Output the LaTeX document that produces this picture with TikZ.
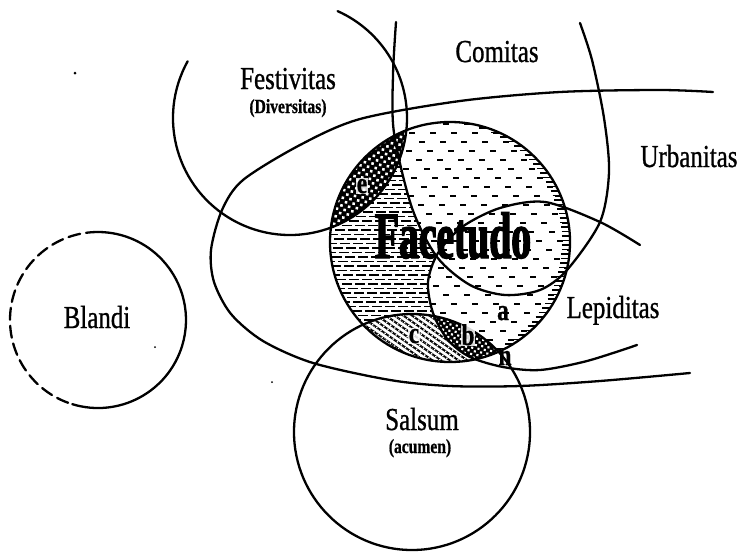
\documentclass[tikz,border=0pt]{standalone}
\usepackage{fontspec}
\setmainfont{Liberation Serif}
\newfontfamily\namefont[FakeStretch=0.78, FakeBold=0.8]{Liberation Serif}
\newfontfamily\bigfont[FakeStretch=0.6, FakeBold=2]{Liberation Serif}
\usetikzlibrary{patterns,patterns.meta}

\newcommand{\comitasline}{plot[smooth] coordinates {(396,22) (393,75) (394,133) (412,208) (437,257) (470,285) (505,295) (540,290) (567,270) (600,222) (609,172) (604,118) (592,60) (580,23)}}
\newcommand{\lepiditasline}{plot[smooth] coordinates {(640,245) (600,222) (545,202) (500,208) (462,227) (438,253) (428,282) (433,313) (448,340) (470,357) (503,367) (540,370) (587,361) (637,345)}}
\newcommand{\urbanitasline}{plot[smooth] coordinates {(713,92) (660,90) (560,92) (460,101) (360,119) (300,145) (243,180) (222,210) (211,250) (214,282) (231,314) (263,341) (313,363) (390,380) (450,386) (520,386) (600,381) (690,373)}}
\newcommand{\sparsehatch}{%
  \fill[white] (320,110) rectangle (580,380);
  \foreach \y [count=\i] in {124,133,...,360} {
    \pgfmathsetmacro{\ph}{mod(11*\i,19)}
    \draw[line width=1.5pt, dash pattern=on 6pt off 15pt, dash phase=\ph pt] (328,\y) -- (572,\y);
  }
  \foreach \y in {128,132.5,...,358} {
    \pgfmathsetmacro{\xe}{450+sqrt(max(0,14400-(\y-242)*(\y-242)))}
    \draw[line width=1.5pt] (\xe-8,\y) -- (\xe+2,\y);
  }
}

\begin{document}
\begin{tikzpicture}[
        x = 1pt,
        y = -1pt,
        outline/.style = {line width=2.3pt, line cap=round},
        namelabel/.style = {font=\namefont\fontsize{32}{32}\selectfont, inner sep=0pt, anchor=base},
        sublabel/.style = {font=\namefont\bfseries\fontsize{20}{20}\selectfont, inner sep=0pt, anchor=base},
        regionlabel/.style = {font=\namefont\bfseries\fontsize{30}{30}\selectfont, inner sep=0pt, anchor=base},
        darklabel/.style = {regionlabel, fill=white, fill opacity=0.85, text opacity=1, inner sep=0.6pt}
        ]
    \useasboundingbox (0,0) rectangle (738,552);

    % Facetudo, dense hatching
    \begin{scope}
        \clip (450,242) circle (120);
        \foreach \y [count=\i] in {122,126.5,...,362} {
            \pgfmathsetmacro{\ph}{mod(7*\i,13)}
            \draw[line width=1.8pt, dash pattern=on 10pt off 3pt, dash phase=\ph pt] (328,\y) -- (572,\y);
        }
    \end{scope}
    % sparse hatching inside Comitas and Lepiditas
    \begin{scope}
        \clip (450,242) circle (120);
        \clip \comitasline -- cycle;
        \sparsehatch
    \end{scope}
    \begin{scope}
        \clip (450,242) circle (120);
        \clip \lepiditasline -- cycle;
        \sparsehatch
    \end{scope}

    % region e
    \begin{scope}
        \clip (450,242) circle (120);
        \clip (290,118) circle (117);
        \fill[black] (320,110) rectangle (420,240);
        \fill[pattern={Dots[radius=1.8pt, distance=5.5pt, angle=35]}, pattern color=white] (320,110) rectangle (420,240);
    \end{scope}

    % regions c and b
    \begin{scope}
        \clip (450,242) circle (120);
        \clip (412,432) circle (118);
        \fill[white] (350,300) rectangle (520,370);
        \fill[pattern={Lines[angle=-35, distance=5pt, line width=2pt]}] (350,300) rectangle (520,370);
        \fill[pattern={Dots[radius=1pt, distance=5pt, angle=55]}, pattern color=white] (350,300) rectangle (520,370);
        \clip \lepiditasline -- cycle;
        \fill[black] (350,300) rectangle (520,370);
        \fill[pattern={Dots[radius=1.5pt, distance=4.5pt, angle=35]}, pattern color=white] (350,300) rectangle (520,370);
    \end{scope}

    % outlines
    \draw[outline] (450,242) circle (120);
    \draw[outline] (290,118) ++(209:117) arc[start angle=209, end angle=-66, radius=117];
    \draw[outline] \comitasline;
    \draw[outline] \lepiditasline;
    \draw[outline] \urbanitasline;
    \draw[outline] (412,432) circle (118);
    \draw[outline, dash pattern=on 12pt off 6pt] (98,320) ++(270:88) arc[start angle=270, end angle=107, radius=88];
    \draw[outline] (98,320) ++(107:88) arc[start angle=107, end angle=-90, radius=88];

    % specks
    \fill (75,73) circle (1.5);
    \fill (155,347) circle (1);
    \fill (272,382) circle (1);

    % labels
    \node[namelabel] (festivitas) at (288,89) {Festivitas};
    \node[sublabel] (diversitas) at (288,113) {(Diversitas)};
    \node[namelabel] (comitas) at (497,62) {Comitas};
    \node[namelabel] (urbanitas) at (689,167) {Urbanitas};
    \node[namelabel] (blandi) at (97,328) {Blandi};
    \node[namelabel] (lepiditas) at (613,318) {Lepiditas};
    \node[namelabel] (salsum) at (422,430) {Salsum};
    \node[sublabel] (acumen) at (420,453) {(acumen)};
    \node[font=\bigfont\bfseries\fontsize{66}{66}\selectfont, inner sep=0pt, anchor=base] (facetudo) at (453,258) {Facetudo};
    \node[regionlabel] (rega) at (503,320) {a};
    \node[darklabel] (regb) at (468,345) {b};
    \node[darklabel] (regc) at (414,343) {c};
    \node[darklabel] (rege) at (362,193) {e};
    \node[regionlabel] (regn) at (505,365) {n};
\end{tikzpicture}
\end{document}
